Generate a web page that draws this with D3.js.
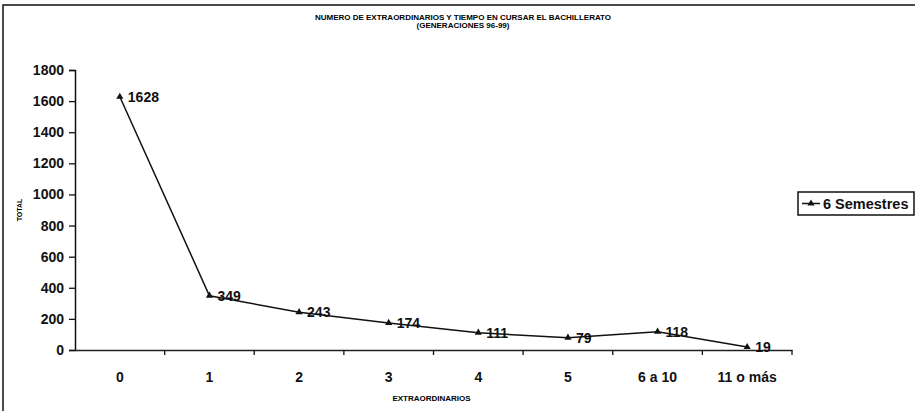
<!DOCTYPE html>
<html>
<head>
<meta charset="utf-8">
<script src="https://cdn.jsdelivr.net/npm/d3@7"></script>
<style>
  html, body { margin: 0; padding: 0; background: #fff; }
  svg { display: block; font-family: "Liberation Sans", Arial, sans-serif; }
</style>
</head>
<body>
<div id="chart"></div>
<script>
const categories = ['0', '1', '2', '3', '4', '5', '6 a 10', '11 o más'];
const semestres6 = [1628, 349, 243, 174, 111, 79, 118, 19];
const yTicks = [0, 200, 400, 600, 800, 1000, 1200, 1400, 1600, 1800];
const seriesName = '6 Semestres';
const titleLines = ['NUMERO DE EXTRAORDINARIOS Y TIEMPO EN CURSAR EL BACHILLERATO', '(GENERACIONES 96-99)'];
const xTitle = 'EXTRAORDINARIOS';
const yTitle = 'TOTAL';

const W = 915, H = 411;
const margin = { top: 70, right: 123, bottom: 61, left: 75 };
const width = W - margin.left - margin.right;
const height = H - margin.top - margin.bottom;

const root = d3.select('#chart').append('svg').attr('width', W).attr('height', H);

// scanned frame
root.append('rect').attr('x', 3).attr('y', 5).attr('width', W + 10).attr('height', H + 10)
    .attr('fill', 'none').attr('stroke', '#111').attr('stroke-width', 1.5);

// title
root.selectAll('text.title').data(titleLines).join('text')
    .attr('class', 'title')
    .attr('x', 463).attr('y', (d, i) => 20 + i * 8)
    .attr('text-anchor', 'middle').attr('font-size', 8).attr('font-weight', 'bold')
    .text(d => d);

const svg = root.append('g').attr('transform', `translate(${margin.left},${margin.top})`);

const x = d3.scaleBand().domain(categories).range([0, width]).padding(0);
const y = d3.scaleLinear().domain([0, 1800]).range([height, 0]);

// y axis
const yAxis = svg.append('g').call(d3.axisLeft(y).tickValues(yTicks).tickFormat(d3.format('d')).tickSize(6).tickPadding(5));
yAxis.select('.domain').attr('stroke', '#111').attr('stroke-width', 1.5);
yAxis.selectAll('.tick line').attr('stroke', '#111').attr('stroke-width', 1.3);
yAxis.selectAll('.tick text').attr('font-size', 14).attr('font-weight', 'bold').attr('fill', '#111')
    .attr('font-family', '"Liberation Sans", Arial, sans-serif');

// x axis: labels centered, ticks on band boundaries
const xAxis = svg.append('g').attr('transform', `translate(0,${height})`)
    .call(d3.axisBottom(x).tickSize(0).tickPadding(22));
xAxis.select('.domain').attr('stroke', '#222').attr('stroke-width', 1.5);
xAxis.selectAll('.tick text').attr('font-size', 14).attr('font-weight', 'bold').attr('fill', '#111')
    .attr('font-family', '"Liberation Sans", Arial, sans-serif');
const bounds = categories.slice(1).map(c => x(c)).concat([x.range()[1]]);
svg.append('g').selectAll('line').data(bounds).join('line')
    .attr('x1', d => d).attr('x2', d => d)
    .attr('y1', height).attr('y2', height + 5)
    .attr('stroke', '#111').attr('stroke-width', 1.3);

// axis titles
root.append('text').attr('transform', `translate(22,${margin.top + height / 2}) rotate(-90)`)
    .attr('text-anchor', 'middle').attr('font-size', 7).attr('font-weight', 'bold').text(yTitle);
root.append('text').attr('x', margin.left + width / 2 - 2).attr('y', 401)
    .attr('text-anchor', 'middle').attr('font-size', 8).attr('font-weight', 'bold').text(xTitle);

// series
const pts = categories.map((c, i) => ({ c, v: semestres6[i] }));
const line = d3.line().x(d => x(d.c) + x.bandwidth() / 2).y(d => y(d.v));
svg.append('path').datum(pts).attr('fill', 'none').attr('stroke', '#111').attr('stroke-width', 1.5).attr('d', line);

const tri = d3.symbol().type(d3.symbolTriangle).size(22);
svg.selectAll('path.marker').data(pts).join('path')
    .attr('class', 'marker')
    .attr('transform', d => `translate(${x(d.c) + x.bandwidth() / 2},${y(d.v)})`)
    .attr('d', tri).attr('fill', '#111');

svg.selectAll('text.lbl').data(pts).join('text')
    .attr('class', 'lbl')
    .attr('x', d => x(d.c) + x.bandwidth() / 2 + 8)
    .attr('y', d => y(d.v))
    .attr('dy', '0.36em')
    .attr('font-size', 14).attr('font-weight', 'bold').attr('fill', '#111')
    .text(d => d.v);

// legend
const lg = root.append('g').attr('transform', 'translate(798,192)');
lg.append('rect').attr('width', 116).attr('height', 23).attr('fill', '#fff')
    .attr('stroke', '#111').attr('stroke-width', 1.5);
lg.append('line').attr('x1', 4).attr('x2', 22).attr('y1', 11.5).attr('y2', 11.5)
    .attr('stroke', '#111').attr('stroke-width', 1.5);
lg.append('path').attr('transform', 'translate(13,11.5)').attr('d', tri).attr('fill', '#111');
lg.append('text').attr('x', 25).attr('y', 11.5).attr('dy', '0.36em')
    .attr('font-size', 14.5).attr('font-weight', 'bold').attr('fill', '#111').text(seriesName);
</script>
</body>
</html>
